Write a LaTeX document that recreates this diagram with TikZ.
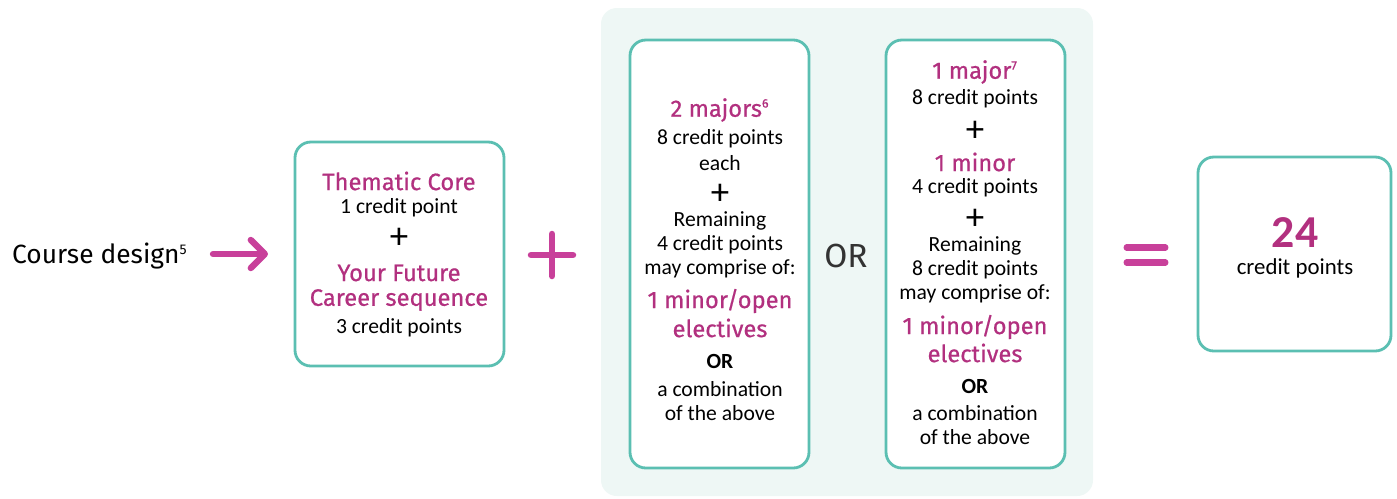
\documentclass[tikz,border=0pt]{standalone}
\usepackage{fontspec}
\setmainfont{Carlito}
\newfontfamily\headfont[FakeBold=0.6]{Fira Sans}
\newfontfamily\plainhead{Fira Sans}
\usepackage{tikz}
\usetikzlibrary{arrows.meta}
\definecolor{pinktxt}{HTML}{B2307F}
\definecolor{pinksym}{HTML}{C8409A}
\definecolor{tealline}{HTML}{5BBFB2}
\definecolor{tealback}{HTML}{EEF7F5}

\tikzset{
  box/.style={draw=tealline, line width=1.6pt, rounded corners=9pt, fill=white},
  txt/.style={font=\fontsize{12.3}{14}\selectfont},
  hd/.style={font=\headfont\fontsize{13.5}{15}\selectfont, text=pinktxt},
  pl/.style={font=\fontsize{21}{21}\selectfont},
  sym/.style={draw=pinksym, line width=3.6pt, line cap=round},
}

\begin{document}
\begin{tikzpicture}[x=0.02cm,y=-0.02cm]
            \useasboundingbox (0,0) rectangle (1397,498);
            % panel behind the two options
            \fill[tealback, rounded corners=9pt] (601,8) rectangle (1093,496);
            % boxes
            \draw[box] (295,142) rectangle (504,366);
            \draw[box] (630,40) rectangle (809,468);
            \draw[box] (886,40) rectangle (1065,468);
            \draw[box] (1198,157) rectangle (1391,351);
            % start
            \node[anchor=west, font=\plainhead\fontsize{15}{17}\selectfont] (course) at (6,256) {Course design\textsuperscript{\fontsize{8}{8}\selectfont 5}};
            \coordinate (arrs) at (213,254);
            \coordinate (arre) at (268,254);
            \draw[sym, -{Straight Barb[length=8pt, width=16pt, line cap=round, line join=round]}] (arrs) -- (arre);
            % first box
            \node[hd] (tc) at (399,181) {Thematic Core};
            \node[txt] (tc1) at (399,208) {1 credit point};
            \node[pl] (tc2) at (399,238) {+};
            \node[hd] (yf) at (399,273) {Your Future};
            \node[hd] (yf1) at (399,300) {Career sequence};
            \node[txt] (yf2) at (399,328) {3 credit points};
            % plus
            \coordinate (pl) at (552,255);
            \draw[sym] ([xshift=-12pt]pl) -- ([xshift=12pt]pl);
            \draw[sym] ([yshift=-12pt]pl) -- ([yshift=12pt]pl);
            % option one
            \node[hd] (ma) at (720,110) {2 majors\textsuperscript{\fontsize{7}{7}\selectfont 6}};
            \node[txt] (ma1) at (720,139) {8 credit points};
            \node[txt] (ma2) at (720,163) {each};
            \node[pl] (ma3) at (720,194) {+};
            \node[txt] (ma4) at (720,221) {Remaining};
            \node[txt] (ma5) at (720,245) {4 credit points};
            \node[txt] (ma6) at (720,269) {may comprise of:};
            \node[hd] (ma7) at (720,301) {1 minor/open};
            \node[hd] (ma8) at (720,328) {electives};
            \node[txt, font=\bfseries\fontsize{12.3}{14}\selectfont] (ma9) at (720,361) {OR};
            \node[txt] (ma10) at (720,389) {a combination};
            \node[txt] (ma11) at (720,413) {of the above};
            % or
            \node[font=\plainhead\fontsize{19}{21}\selectfont, text=black!80] (or) at (846,256) {OR};
            % option two
            \node[hd] (mj) at (975,72) {1 major\textsuperscript{\fontsize{7}{7}\selectfont 7}};
            \node[txt] (mj1) at (975,99) {8 credit points};
            \node[pl] (mj2) at (975,131) {+};
            \node[hd] (mn) at (975,162) {1 minor};
            \node[txt] (mn1) at (975,188) {4 credit points};
            \node[pl] (mn2) at (975,219) {+};
            \node[txt] (mn3) at (975,246) {Remaining};
            \node[txt] (mn4) at (975,270) {8 credit points};
            \node[txt] (mn5) at (975,294) {may comprise of:};
            \node[hd] (mn6) at (975,327) {1 minor/open};
            \node[hd] (mn7) at (975,353) {electives};
            \node[txt, font=\bfseries\fontsize{12.3}{14}\selectfont] (mn8) at (975,386) {OR};
            \node[txt] (mn9) at (975,413) {a combination};
            \node[txt] (mn10) at (975,437) {of the above};
            % equals
            \coordinate (eq) at (1146,255);
            \draw[sym] ([xshift=-11pt,yshift=4.2pt]eq) -- ([xshift=11pt,yshift=4.2pt]eq);
            \draw[sym] ([xshift=-11pt,yshift=-4.2pt]eq) -- ([xshift=11pt,yshift=-4.2pt]eq);
            % total
            \node[font=\bfseries\fontsize{26}{26}\selectfont, text=pinktxt] (tot) at (1295,233) {24};
            \node[font=\fontsize{13}{15}\selectfont] (tot1) at (1295,268) {credit points};
\end{tikzpicture}
\end{document}
